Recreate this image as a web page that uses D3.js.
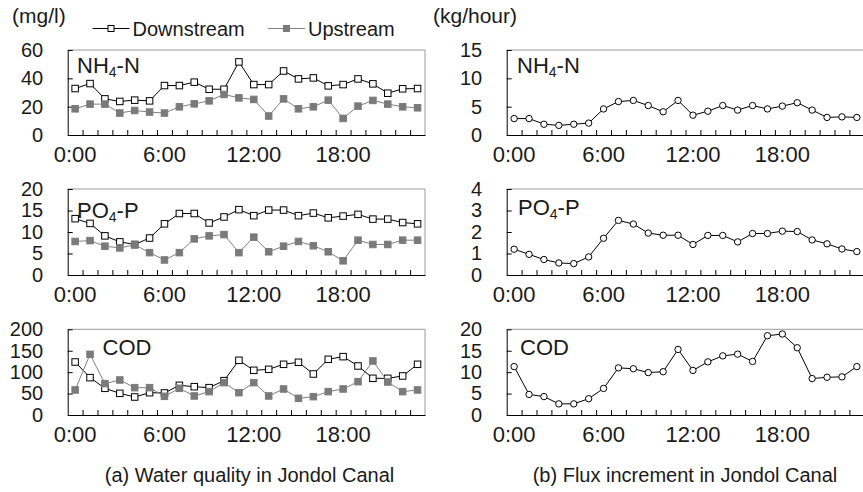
<!DOCTYPE html>
<html><head><meta charset="utf-8">
<script src="https://cdn.jsdelivr.net/npm/d3@7"></script>
<style>
html,body{margin:0;padding:0;background:#fff;}
text{font-family:"Liberation Sans",Arial,Helvetica,sans-serif;fill:#1a1a1a;}
</style></head>
<body><svg id="c" width="863" height="492"></svg>
<script>
const hours = d3.range(24).map(h => h + ":00");
const hourLabels = ["0:00","6:00","12:00","18:00"];

// (a) water quality, mg/l
const nh4Down = [32.8,36.3,25.5,23.7,24.6,24.1,34.9,34.9,37.3,32.3,32.3,51.6,35.6,35.6,45.2,39.6,40.3,34.7,35.6,39.6,36.1,29.5,32.6,32.8];
const nh4Up   = [18.5,21.8,21.8,15.5,17.3,16.2,15.5,19.9,22.0,24.1,28.6,26.2,25.1,13.4,25.5,18.5,19.9,24.6,11.7,20.4,24.4,21.8,19.9,19.2];
const po4Down = [13.1,12.0,9.1,7.7,7.1,8.6,11.9,14.3,14.3,12.1,13.5,15.2,13.8,15.1,15.1,13.8,14.4,13.3,13.7,14.1,13.0,13.0,12.2,11.9];
const po4Up   = [7.8,8.0,6.7,6.3,7.0,5.2,3.5,5.2,8.4,9.1,9.4,5.2,8.8,5.4,6.7,7.8,6.8,5.4,3.3,8.1,7.1,7.1,8.1,8.1];
const codDown = [123.7,87.2,62.3,50.6,42.0,52.1,51.4,69.3,66.1,63.8,80.2,127.6,104.3,106.6,118.3,123.0,95.7,130.0,136.2,114.4,85.6,85.6,91.1,118.3];
const codUp   = [58.4,141.6,73.2,81.7,63.8,63.8,43.6,62.3,44.4,54.5,75.5,52.1,75.5,44.4,60.7,38.9,42.8,54.5,60.7,77.8,126.1,77.0,54.5,58.4];

// (b) flux increment, kg/hour
const nh4Flux = [2.9,2.9,1.9,1.7,1.9,2.1,4.6,5.9,6.1,5.2,4.1,6.1,3.5,4.2,5.2,4.4,5.2,4.6,5.1,5.7,4.4,3.1,3.2,3.1];
const po4Flux = [1.2,0.96,0.72,0.56,0.53,0.84,1.71,2.54,2.37,1.95,1.85,1.85,1.42,1.84,1.84,1.54,1.93,1.93,2.04,2.02,1.63,1.45,1.21,1.09];
const codFlux = [11.3,4.8,4.3,2.6,2.6,3.8,6.2,11.0,10.8,9.9,10.1,15.3,10.4,12.4,13.8,14.2,12.5,18.5,18.9,15.7,8.5,8.8,8.9,11.3];

const nh4Ticks = [0,20,40,60], po4Ticks = [0,5,10,15,20], codTicks = [0,50,100,150,200];
const nh4FluxTicks = [0,5,10,15], po4FluxTicks = [0,1,2,3,4], codFluxTicks = [0,5,10,15,20];

const svg = d3.select("#c");
const cols = [{x0:67.7, x1:425}, {x0:506.7, x1:864.3}];
const rows = [{y0:50, y1:135}, {y0:189, y1:275}, {y0:329.3, y1:415}];

function panel(col,row,cfg){
  const c = cols[col], r = rows[row];
  const g = svg.append("g");
  const x = d3.scaleBand().domain(hours).range([c.x0,c.x1]).paddingInner(0).paddingOuter(0);
  const xb = d3.scaleLinear().domain([0,24]).range([c.x0,c.x1]);
  const y = d3.scaleLinear().domain([0, d3.max(cfg.ticks)]).range([r.y1, r.y0]);
  // frame top/right
  g.append("path").attr("d", `M${c.x0},${r.y0}H${c.x1}V${r.y1}`).attr("fill","none").attr("stroke","#9a9a9a").attr("stroke-width",1);
  // y axis
  const ya = g.append("g").attr("transform",`translate(${c.x0},0)`)
    .call(d3.axisLeft(y).tickValues(cfg.ticks).tickFormat(d3.format("d")).tickSizeInner(-5).tickSizeOuter(0));
  ya.select(".domain").attr("stroke","#000");
  ya.selectAll(".tick line").attr("stroke","#000");
  ya.selectAll("text").attr("x",-24.5).attr("text-anchor","end").attr("font-size",20).attr("fill","#1a1a1a").attr("font-family","Liberation Sans, Arial, sans-serif");
  // x boundary ticks
  const xa = g.append("g").attr("transform",`translate(0,${r.y1})`)
    .call(d3.axisBottom(xb).tickValues(d3.range(1,24)).tickSizeInner(-5).tickSizeOuter(0).tickFormat(""));
  xa.select(".domain").attr("stroke","#000");
  xa.selectAll(".tick line").attr("stroke","#000");
  // x labels
  const xl = g.append("g").attr("transform",`translate(0,${r.y1})`)
    .call(d3.axisBottom(x).tickValues(hourLabels).tickSize(0).tickPadding(11));
  xl.select(".domain").remove();
  xl.selectAll("text").attr("font-size",22).attr("fill","#1a1a1a").attr("font-family","Liberation Sans, Arial, sans-serif");
  // label
  const t = g.append("text").attr("x",cfg.lx).attr("y",cfg.ly).attr("font-size",22);
  t.append("tspan").text(cfg.name[0]);
  if(cfg.name[1]){
    t.append("tspan").text(cfg.name[1]).attr("font-size",14).attr("dy",4);
    t.append("tspan").text(cfg.name[2]).attr("dy",-4);
  }
  const line = d3.line().x((d,i)=>x(hours[i])+x.bandwidth()/2).y(d=>y(d));
  cfg.series.forEach(s=>{
    g.append("path").datum(s.data).attr("d",line).attr("fill","none").attr("stroke",s.color).attr("stroke-width",1);
    if(s.shape==="circle"){
      g.selectAll(null).data(s.data).enter().append("circle")
        .attr("cx",(d,i)=>x(hours[i])+x.bandwidth()/2).attr("cy",d=>y(d)).attr("r",3.2)
        .attr("fill","#fff").attr("stroke","#000").attr("stroke-width",1);
    } else {
      const sz = 6.5;
      g.selectAll(null).data(s.data).enter().append("rect")
        .attr("x",(d,i)=>x(hours[i])+x.bandwidth()/2-sz/2).attr("y",d=>y(d)-sz/2)
        .attr("width",sz).attr("height",sz)
        .attr("fill",s.fill).attr("stroke",s.stroke).attr("stroke-width",1);
    }
  });
}

const down = d => ({data:d, color:"#000", shape:"square", fill:"#fff", stroke:"#000"});
const up = d => ({data:d, color:"#808080", shape:"square", fill:"#7a7a7a", stroke:"#7a7a7a"});
const flux = d => ({data:d, color:"#000", shape:"circle"});

panel(0,0,{ticks:nh4Ticks, name:["NH","4","-N"], lx:77, ly:73, series:[down(nh4Down), up(nh4Up)]});
panel(0,1,{ticks:po4Ticks, name:["PO","4","-P"], lx:77, ly:218, series:[down(po4Down), up(po4Up)]});
panel(0,2,{ticks:codTicks, name:["COD"], lx:102.5, ly:355, series:[down(codDown), up(codUp)]});
panel(1,0,{ticks:nh4FluxTicks, name:["NH","4","-N"], lx:517, ly:73, series:[flux(nh4Flux)]});
panel(1,1,{ticks:po4FluxTicks, name:["PO","4","-P"], lx:518, ly:215, series:[flux(po4Flux)]});
panel(1,2,{ticks:codFluxTicks, name:["COD"], lx:520, ly:355, series:[flux(codFlux)]});

// units
svg.append("text").attr("x",12).attr("y",23).attr("font-size",21).text("(mg/l)");
svg.append("text").attr("x",433).attr("y",23).attr("font-size",21).text("(kg/hour)");

// legend
const legend = [{name:"Downstream", x:92.5, s:down([])}, {name:"Upstream", x:268, s:up([])}];
legend.forEach(l=>{
  svg.append("line").attr("x1",l.x).attr("x2",l.x+37).attr("y1",28.5).attr("y2",28.5).attr("stroke",l.s.color).attr("stroke-width",1);
  svg.append("rect").attr("x",l.x+18.5-3).attr("y",25.5).attr("width",6).attr("height",6).attr("fill",l.s.fill).attr("stroke",l.s.stroke);
  svg.append("text").attr("x",l.x+40).attr("y",36).attr("font-size",20).text(l.name);
});

// captions
svg.append("text").attr("x",249.5).attr("y",482).attr("text-anchor","middle").attr("font-size",20).text("(a) Water quality in Jondol Canal");
svg.append("text").attr("x",685).attr("y",482).attr("text-anchor","middle").attr("font-size",20).text("(b) Flux increment in Jondol Canal");
</script></body></html>
